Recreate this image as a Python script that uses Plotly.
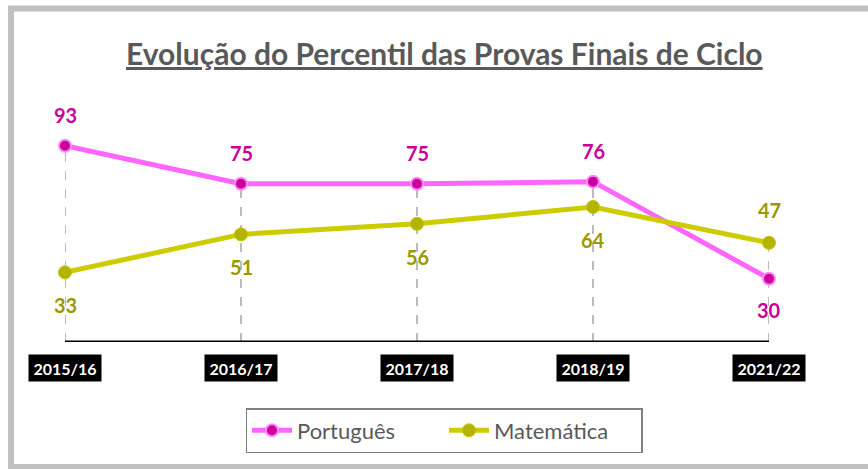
import plotly.graph_objects as go

categories = ["2015/16", "2016/17", "2017/18", "2018/19", "2021/22"]
portugues = [93, 75, 75, 76, 30]
matematica = [33, 51, 56, 64, 47]
series_names = ["Português", "Matemática"]
title_text = "Evolução do Percentil das Provas Finais de Ciclo"

W, H = 868, 469
L, R, T, B = 65, 99, 131, 127
FONT = "Lato"

def px(x):
    return (x - L) / (W - L - R)

def py(y):
    return (H - B - y) / (H - T - B)

fig = go.Figure()

shapes = []
for c, a, b in zip(categories, portugues, matematica):
    shapes.append(dict(type="line", xref="x", yref="y", x0=c, x1=c, y0=0, y1=max(a, b),
                       line=dict(color="#A6A6A6", width=1.5, dash="dash"), layer="below"))
shapes.append(dict(type="line", xref="x", yref="y", x0=categories[0], x1=categories[-1], y0=0, y1=0,
                   line=dict(color="#000000", width=3)))
shapes.append(dict(type="rect", xref="paper", yref="paper", x0=px(11), x1=px(880), y0=py(8.5), y1=py(467),
                   line=dict(color="#C0C0C0", width=6), fillcolor="rgba(0,0,0,0)"))

fig.add_trace(go.Scatter(
    x=categories, y=portugues, name=series_names[0], mode="lines+markers",
    line=dict(color="#FF66FF", width=5),
    marker=dict(color="#CC0099", size=12, line=dict(color="#FF88FF", width=2)),
    cliponaxis=False,
))
fig.add_trace(go.Scatter(
    x=categories, y=matematica, name=series_names[1], mode="lines+markers",
    line=dict(color="#CCCC00", width=5),
    marker=dict(color="#B3B300", size=13, line=dict(color="#C4C400", width=1)),
    cliponaxis=False,
))

annotations = []
for c, a, b in zip(categories, portugues, matematica):
    pa = 1 if a >= b else -1
    annotations.append(dict(x=c, y=a, xref="x", yref="y", text=f"<b>{a}</b>", showarrow=False,
                            yshift=31 * pa, font=dict(family=FONT, size=20, color="#CC0099")))
    annotations.append(dict(x=c, y=b, xref="x", yref="y", text=f"<b>{b}</b>", showarrow=False,
                            yshift=-33 * pa, font=dict(family=FONT, size=20, color="#999900")))
    annotations.append(dict(x=c, y=0, xref="x", yref="y", text=f"<b>{c}</b>", showarrow=False,
                            yshift=-26, bgcolor="#000000", borderpad=1, width=70, height=24,
                            font=dict(family=FONT, size=16, color="#FFFFFF")))

annotations.append(dict(x=px(444), y=py(53), xref="paper", yref="paper", showarrow=False,
                        xanchor="center", yanchor="middle",
                        text=f'<span style="text-decoration:underline"><b>{title_text}</b></span>',
                        font=dict(family=FONT, size=30, color="#595959")))

fig.update_layout(
    width=W, height=H,
    margin=dict(l=L, r=R, t=T, b=B),
    paper_bgcolor="#FFFFFF", plot_bgcolor="#FFFFFF",
    showlegend=True,
    legend=dict(orientation="h", x=px(444), xanchor="center", y=py(408), yanchor="top",
                bordercolor="#808080", borderwidth=1.5, bgcolor="#FFFFFF",
                font=dict(family=FONT, size=22, color="#595959"),
                itemwidth=40, entrywidth=142, entrywidthmode="pixels"),
    xaxis=dict(type="category", categoryorder="array", categoryarray=categories,
               range=[0, len(categories) - 1], showgrid=False, zeroline=False,
               showticklabels=False, showline=False, ticks=""),
    yaxis=dict(range=[0, 100], showgrid=False, zeroline=False, showticklabels=False,
               showline=False, ticks=""),
    shapes=shapes, annotations=annotations,
)

fig.write_html("out.html", config={"displayModeBar": False},
               post_script="document.body.style.margin='0';")
